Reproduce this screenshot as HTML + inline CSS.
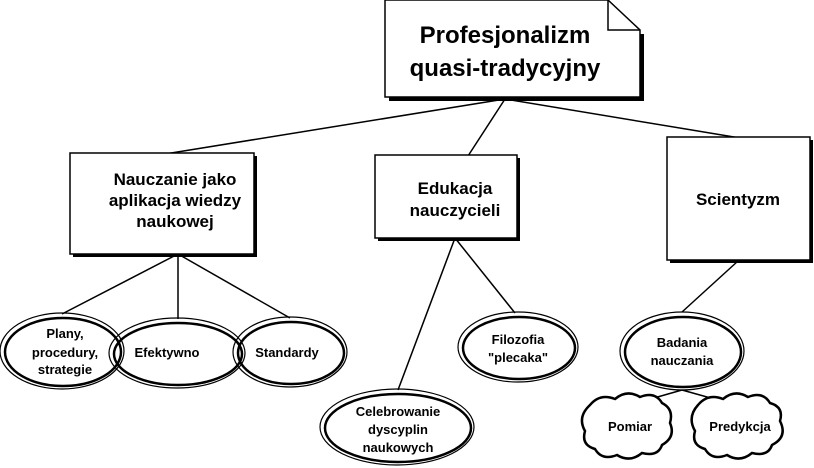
<!DOCTYPE html><html><head><style>body{margin:0;background:#fff}svg{display:block}text{font-family:"Liberation Sans",Arial,sans-serif;font-weight:bold;text-anchor:middle;fill:#000}</style></head><body>
<svg width="814" height="468" viewBox="0 0 814 468" xmlns="http://www.w3.org/2000/svg">
<g stroke="#000" stroke-width="1.5" fill="none">
<line x1="505" y1="99" x2="165" y2="154"/>
<line x1="505" y1="99" x2="468" y2="156"/>
<line x1="505" y1="99" x2="740" y2="138"/>
<line x1="178" y1="254" x2="62" y2="314"/>
<line x1="178" y1="254" x2="178" y2="319"/>
<line x1="178" y1="254" x2="290" y2="318"/>
<line x1="455" y1="238" x2="398" y2="390"/>
<line x1="455" y1="238" x2="515" y2="313"/>
<line x1="738" y1="261" x2="682" y2="312"/>
<line x1="682" y1="390" x2="640" y2="402"/>
<line x1="682" y1="390" x2="725" y2="402"/>
</g>
<!-- top box -->
<path d="M389 101 V97 H640 V34 H644 V101 Z" fill="#000"/>
<path d="M385 0 H608 L640 30 V97 H385 Z" fill="#fff" stroke="#000" stroke-width="1.5"/>
<path d="M608 0 V30 H640" fill="none" stroke="#000" stroke-width="1.5"/>
<text x="505" y="43" font-size="24">Profesjonalizm</text>
<text x="505" y="76" font-size="24">quasi-tradycyjny</text>
<!-- boxes -->
<rect x="73" y="156" width="184" height="101" fill="#000"/>
<rect x="70" y="153" width="184" height="101" fill="#fff" stroke="#000" stroke-width="1.5"/>
<text x="175" y="185" font-size="17">Nauczanie jako</text>
<text x="175" y="206" font-size="17">aplikacja wiedzy</text>
<text x="175" y="227" font-size="17">naukowej</text>
<rect x="378" y="158" width="142" height="83" fill="#000"/>
<rect x="375" y="155" width="142" height="83" fill="#fff" stroke="#000" stroke-width="1.5"/>
<text x="455" y="194" font-size="17">Edukacja</text>
<text x="455" y="216" font-size="17">nauczycieli</text>
<rect x="670" y="140" width="143" height="123" fill="#000"/>
<rect x="667" y="137" width="143" height="123" fill="#fff" stroke="#000" stroke-width="1.5"/>
<text x="738" y="205" font-size="17">Scientyzm</text>
<!-- ellipses -->
<g fill="none" stroke="#000">
<g><ellipse cx="62" cy="351" rx="62" ry="38" stroke-width="1.2"/><ellipse cx="63" cy="352" rx="58" ry="34" stroke-width="2.5"/></g>
<g><ellipse cx="177" cy="353" rx="68" ry="35" stroke-width="1.2"/><ellipse cx="178" cy="354" rx="64" ry="31" stroke-width="2.5"/></g>
<g><ellipse cx="290" cy="352" rx="57" ry="35" stroke-width="1.2"/><ellipse cx="291" cy="353" rx="53" ry="31" stroke-width="2.5"/></g>
<g><ellipse cx="518" cy="347" rx="60" ry="35" stroke-width="1.2"/><ellipse cx="519" cy="348" rx="56" ry="31" stroke-width="2.5"/></g>
<g><ellipse cx="397" cy="427" rx="77" ry="38" stroke-width="1.2"/><ellipse cx="398" cy="428" rx="73" ry="34" stroke-width="2.5"/></g>
<g><ellipse cx="682" cy="351" rx="62" ry="39" stroke-width="1.2"/><ellipse cx="683" cy="352" rx="58" ry="35" stroke-width="2.5"/></g>
</g>
<!-- clouds -->
<g fill="#fff" stroke="#000" stroke-width="2.5">
<path d="M590 405 q10-12 25-6 q12-10 25-2 q15-6 22 6 q12 6 8 20 q6 14-8 22 q-4 12-20 8 q-12 10-25 2 q-15 6-22-6 q-14-4-10-18 q-8-14 5-26z"/>
<path d="M698 405 q10-12 25-6 q12-10 25-2 q15-6 22 6 q14 4 10 18 q8 16-8 24 q-4 12-20 8 q-12 10-25 2 q-15 6-22-6 q-14-4-10-18 q-8-14 3-26z"/>
</g>
<g font-size="13">
<text x="65" y="338">Plany,</text><text x="65" y="357">procedury,</text><text x="65" y="374">strategie</text>
<text x="167" y="357">Efektywno</text>
<text x="287" y="357">Standardy</text>
<text x="518" y="344">Filozofia</text><text x="518" y="362">"plecaka"</text>
<text x="398" y="416">Celebrowanie</text><text x="398" y="434">dyscyplin</text><text x="398" y="452">naukowych</text>
<text x="682" y="347">Badania</text><text x="682" y="365">nauczania</text>
<text x="630" y="431">Pomiar</text><text x="740" y="431">Predykcja</text>
</g>
</svg></body></html>
